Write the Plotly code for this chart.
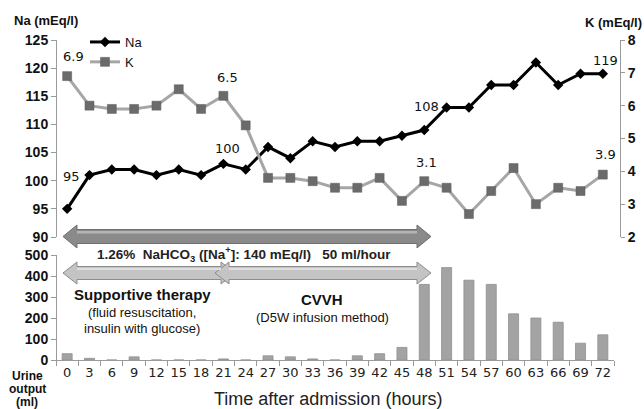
import plotly.graph_objects as go

hours = [0, 3, 6, 9, 12, 15, 18, 21, 24, 27, 30, 33, 36, 39, 42, 45, 48, 51, 54, 57, 60, 63, 66, 69, 72]
cats = [str(h) for h in hours]
na = [95, 101, 102, 102, 101, 102, 101, 103, 102, 106, 104, 107, 106, 107, 107, 108, 109, 113, 113, 117, 117, 121, 117, 119, 119]
k = [6.9, 6.0, 5.9, 5.9, 6.0, 6.5, 5.9, 6.3, 5.4, 3.8, 3.8, 3.7, 3.5, 3.5, 3.8, 3.1, 3.7, 3.5, 2.7, 3.4, 4.1, 3.0, 3.5, 3.4, 3.9]
urine = [30, 8, 0, 15, 0, 0, 0, 5, 0, 20, 15, 5, 0, 20, 30, 60, 360, 440, 380, 360, 220, 200, 180, 80, 120]

# plot area in pixels
L, R, T, B = 56, 620, 40, 360
W, H = 644, 409

def X(px):
    return (px - L) / (R - L)

def Y(py):
    return (B - py) / (B - T)

fig = go.Figure()
fig.add_trace(go.Bar(x=cats, y=urine, yaxis="y3", marker=dict(color="#a3a3a3", line=dict(color="#8f8f8f", width=0.8)),
                     width=0.45, showlegend=False))
fig.add_trace(go.Scatter(x=cats, y=na, name="Na", mode="lines+markers", yaxis="y",
                         line=dict(color="black", width=3),
                         marker=dict(symbol="diamond", size=8, color="black")))
fig.add_trace(go.Scatter(x=cats, y=k, name="K", mode="lines+markers", yaxis="y2",
                         line=dict(color="#a6a6a6", width=3),
                         marker=dict(symbol="square", size=9, color="#6b6b6b", line=dict(color="#5a5a5a", width=0.5))))

def darrow(x1, x2, yc, h1, h2, hl, fill, line):
    pts = [(x1, yc), (x1 + hl, yc - h2), (x1 + hl, yc - h1), (x2 - hl, yc - h1), (x2 - hl, yc - h2),
           (x2, yc), (x2 - hl, yc + h2), (x2 - hl, yc + h1), (x1 + hl, yc + h1), (x1 + hl, yc + h2)]
    p = "M " + " L ".join(f"{X(a):.5f},{Y(b):.5f}" for a, b in pts) + " Z"
    return dict(type="path", path=p, xref="paper", yref="paper", fillcolor=fill,
                line=dict(color=line, width=1), layer="above")

shapes = [
    darrow(63, 431, 236.5, 7, 11.5, 14, "#8a8a8a", "#6f6f6f"),
    darrow(63, 235, 273, 6.5, 11, 14, "#c4c4c4", "#8c8c8c"),
    darrow(215, 431, 273, 6.5, 11, 14, "#c4c4c4", "#8c8c8c"),
]
shapes.append(dict(type="rect", xref="paper", yref="paper", x0=X(77), x1=X(417), y0=Y(233.5), y1=Y(231),
                   fillcolor="#b5b5b5", line=dict(width=0), layer="above"))
shapes.append(dict(type="rect", xref="paper", yref="paper", x0=X(77), x1=X(221), y0=Y(270), y1=Y(268),
                   fillcolor="#dedede", line=dict(width=0), layer="above"))
shapes.append(dict(type="rect", xref="paper", yref="paper", x0=X(229), x1=X(417), y0=Y(270), y1=Y(268),
                   fillcolor="#dedede", line=dict(width=0), layer="above"))

ann = []
def lab(text, xi, yv, size=13):
    ann.append(dict(text=text, x=xi, y=yv, xref="x", yref="y", showarrow=False,
                    font=dict(family="DejaVu Sans", size=size, color="#111")))

lab("6.9", 0.27, 122.0)
lab("95", 0.18, 100.8)
lab("100", 7.2, 105.8)
lab("6.5", 7.2, 118.4)
lab("108", 16.1, 113.1)
lab("3.1", 16.1, 103.3)
lab("119", 24.1, 121.4)
lab("3.9", 24.1, 104.6)

def ptext(text, px, py, size, bold=False, family="Liberation Sans", xanchor="center", color="#111"):
    ann.append(dict(text=(f"<b>{text}</b>" if bold else text), x=X(px), y=Y(py), xref="paper", yref="paper",
                    showarrow=False, xanchor=xanchor, yanchor="middle", borderpad=0,
                    font=dict(family=family, size=size, color=color)))

ptext("Na (mEq/l)", 46, 20, 13, bold=True)
ptext("K (mEq/l)", 643, 22, 13, bold=True, xanchor="right")
ptext("1.26%  NaHCO<sub>3</sub> ([Na<sup>+</sup>]: 140 mEq/l)   50 ml/hour", 244, 254, 13.5, bold=True, color="#222")
ptext("Supportive therapy", 142, 294, 15, bold=True)
ptext("(fluid resuscitation,", 142, 312, 13)
ptext("insulin with glucose)", 142, 328, 13)
ptext("CVVH", 322, 299, 15, bold=True)
ptext("(D5W infusion method)", 322, 317, 13)
ptext("Urine", 27, 376, 12, bold=True)
ptext("output", 27, 389, 12, bold=True)
ptext("(ml)", 27, 402, 12, bold=True)
ptext("Time after admission (hours)", 328, 399, 18, color="#222")

axcol = "#9a9a9a"
fig.update_layout(
    width=W, height=H, margin=dict(l=L, r=W - R, t=T, b=H - B, autoexpand=False),
    paper_bgcolor="white", plot_bgcolor="white",
    xaxis=dict(type="category", domain=[0, (614 - L) / (R - L)], anchor="y3", range=[-0.5, 24.5],
               showline=True, linecolor=axcol, linewidth=1, ticks="outside", tickson="boundaries",
               ticklen=5, tickcolor=axcol, showgrid=False, tickangle=0, automargin=False,
               tickfont=dict(family="DejaVu Sans", size=13, color="#222")),
    yaxis=dict(domain=[Y(237), 1], range=[90, 125], dtick=5, showline=True, linecolor=axcol,
               ticks="outside", ticklen=5, tickcolor=axcol, showgrid=False, zeroline=False,
               anchor="free", position=0, automargin=False,
               tickfont=dict(family="Liberation Sans", size=14, color="#111", weight="bold")),
    yaxis2=dict(range=[2, 8], dtick=1, overlaying="y", side="right", anchor="free", position=1,
                showline=True, linecolor=axcol, ticks="outside", ticklen=4, tickcolor=axcol,
                showgrid=False, zeroline=False, automargin=False,
                tickfont=dict(family="Liberation Sans", size=14, color="#111", weight="bold")),
    yaxis3=dict(domain=[0, Y(255)], range=[0, 500], dtick=100, showline=True, linecolor=axcol,
                ticks="outside", ticklen=5, tickcolor=axcol, showgrid=False, zeroline=False,
                anchor="free", position=0, automargin=False,
                tickfont=dict(family="Liberation Sans", size=14, color="#111", weight="bold")),
    legend=dict(x=X(85), y=Y(27), xanchor="left", yanchor="top", bgcolor="rgba(0,0,0,0)",
                font=dict(family="Liberation Sans", size=13, color="#111"), itemwidth=30,
                tracegroupgap=0),
    shapes=shapes, annotations=ann,
)
fig.write_html("out.html", config={"displayModeBar": False},
               post_script="document.body.style.margin='0';document.body.style.overflow='hidden';")
